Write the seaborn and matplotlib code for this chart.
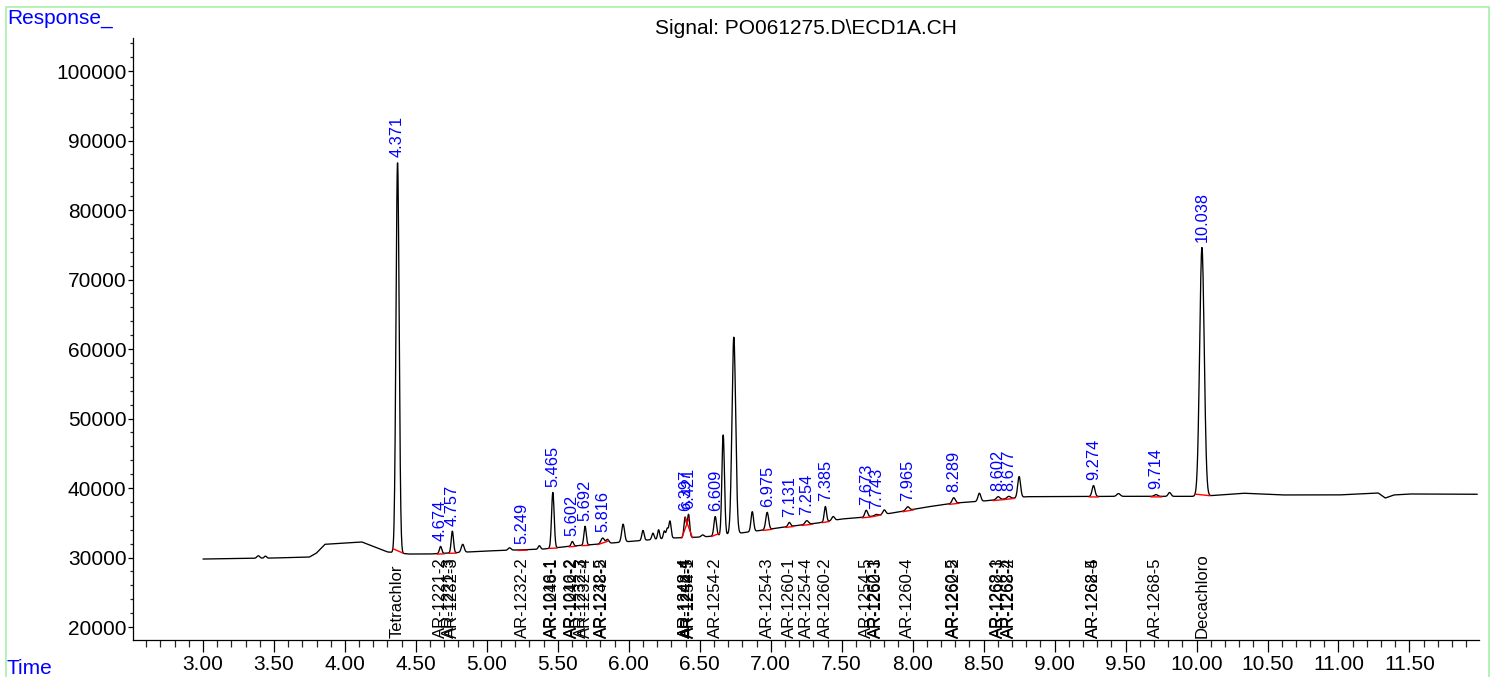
import numpy as np
import pandas as pd
import matplotlib
matplotlib.use("Agg")
import matplotlib.pyplot as plt
import seaborn as sns
from matplotlib.patches import Rectangle
from matplotlib.ticker import MultipleLocator, FormatStrFormatter
import matplotlib.transforms as mtransforms

# ---------------- data ----------------
baseline_time = [3.00, 3.50, 3.75, 3.80, 3.86, 4.00, 4.12, 4.23, 4.30, 4.45, 4.60,
                 5.00, 5.40, 5.60, 5.80, 6.00, 6.30, 6.52, 6.60, 6.78, 6.95, 7.10,
                 7.33, 7.50, 7.68, 7.90, 8.10, 8.30, 8.50, 8.72, 8.80, 9.50, 10.00,
                 10.10, 10.33, 10.60, 11.00, 11.28, 11.33, 11.39, 11.50, 11.98]
baseline_resp = [29780, 29930, 30070, 30650, 31900, 32090, 32230, 31370, 30800, 30500, 30500,
                 30940, 31220, 31650, 31940, 32300, 32800, 32950, 33100, 33500, 33960, 34390,
                 34960, 35540, 35830, 36550, 37270, 37840, 38130, 38560, 38750, 38800, 38800,
                 38900, 39250, 39000, 39000, 39280, 38560, 39000, 39140, 39100]

# integrated (labelled) peaks: retention time, apex response, width (sigma, min)
labeled_rt = [4.371, 4.674, 4.757, 5.249, 5.465, 5.602, 5.692, 5.816, 6.397, 6.421,
              6.609, 6.975, 7.131, 7.254, 7.385, 7.673, 7.743, 7.965, 8.289, 8.602,
              8.677, 9.274, 9.714, 10.038]
labeled_apex = [87000, 31600, 33800, 31100, 39400, 32300, 34500, 32800, 35800, 36200,
                35900, 36500, 35050, 35300, 37350, 36800, 36200, 37300, 38600, 38750,
                38800, 40350, 39050, 74600]
labeled_sigma = [0.011, 0.008, 0.008, 0.010, 0.009, 0.008, 0.008, 0.012, 0.008, 0.008,
                 0.009, 0.010, 0.009, 0.012, 0.008, 0.010, 0.010, 0.012, 0.011, 0.012,
                 0.012, 0.010, 0.012, 0.016]

# other visible peaks (not labelled)
other_rt = [3.39, 3.44, 4.83, 5.16, 5.37, 5.85, 5.96, 6.10, 6.17, 6.21, 6.25, 6.27,
            6.29, 6.52, 6.665, 6.74, 6.87, 7.44, 7.80, 8.47, 8.75, 9.45, 9.81]
other_apex = [30250, 30200, 31900, 31400, 31700, 32600, 34800, 33900, 33500, 34000, 33800, 34100,
              35250, 33250, 47700, 61700, 36600, 35900, 36850, 39250, 41650, 39200, 39350]
other_sigma = [0.010, 0.008, 0.010, 0.010, 0.008, 0.010, 0.010, 0.008, 0.008, 0.007, 0.007, 0.007,
               0.008, 0.010, 0.009, 0.013, 0.009, 0.010, 0.010, 0.010, 0.010, 0.012, 0.010]

# compound names printed at the bottom
compound_names = ["Tetrachlor", "AR-1221-2", "AR-1221-3", "AR-1232-3", "AR-1232-2",
                  "AR-1016-1", "AR-1248-1", "AR-1016-2", "AR-1242-2", "AR-1232-3",
                  "AR-1232-4", "AR-1232-5", "AR-1248-2", "AR-1242-4", "AR-1248-4",
                  "AR-1242-5", "AR-1254-1", "AR-1254-2", "AR-1254-3", "AR-1260-1",
                  "AR-1254-4", "AR-1260-2", "AR-1254-5", "AR-1262-1", "AR-1260-3",
                  "AR-1260-4", "AR-1260-5", "AR-1262-2", "AR-1268-1", "AR-1262-3",
                  "AR-1262-4", "AR-1268-2", "AR-1262-5", "AR-1268-4", "AR-1268-5",
                  "Decachloro"]
compound_time = [4.371, 4.674, 4.735, 4.757, 5.249,
                 5.458, 5.465, 5.595, 5.602, 5.668,
                 5.692, 5.810, 5.816, 6.397, 6.401,
                 6.421, 6.425, 6.609, 6.975, 7.131,
                 7.254, 7.385, 7.673, 7.735, 7.743,
                 7.965, 8.289, 8.292, 8.596, 8.602,
                 8.677, 8.681, 9.274, 9.277, 9.714,
                 10.038]

x_ticks = [3.0, 3.5, 4.0, 4.5, 5.0, 5.5, 6.0, 6.5, 7.0, 7.5, 8.0, 8.5, 9.0, 9.5,
           10.0, 10.5, 11.0, 11.5]
y_ticks = [20000, 30000, 40000, 50000, 60000, 70000, 80000, 90000, 100000]

# ---------------- build trace ----------------
t = np.arange(3.0, 11.98, 0.002)
base = np.interp(t, baseline_time, baseline_resp)
signal = base.copy()
all_rt = labeled_rt + other_rt
all_apex = labeled_apex + other_apex
all_sig = labeled_sigma + other_sigma
for rt, apex, s in zip(all_rt, all_apex, all_sig):
    amp = apex - np.interp(rt, baseline_time, baseline_resp)
    signal += amp * np.exp(-0.5 * ((t - rt) / s) ** 2)
df = pd.DataFrame({"time": t, "response": signal})

# ---------------- plot ----------------
sns.set_style("ticks")
plt.rcParams['font.family'] = ['Liberation Sans', 'DejaVu Sans']

W, H = 1496, 677
fig = plt.figure(figsize=(W / 100, H / 100), dpi=100)
fig.patch.set_facecolor("white")
ax = fig.add_axes([133 / W, 1 - 640 / H, (1479 - 133) / W, (640 - 38) / H])

sns.lineplot(data=df, x="time", y="response", ax=ax, color="black",
             linewidth=0.95, estimator=None, sort=False)

# integration baselines
for rt, s in zip(labeled_rt, labeled_sigma):
    xs, xe = rt - 3.0 * s, rt + 3.5 * s
    ys, ye = np.interp(xs, t, signal), np.interp(xe, t, signal)
    ax.plot([xs, xe], [ys - 80, ye - 80], color="red", linewidth=1.0, zorder=3)

# peak RT labels
for rt in labeled_rt:
    m = (t > rt - 0.015) & (t < rt + 0.015)
    top = signal[m].max()
    ax.annotate(f"{rt:.3f}", xy=(rt, top), xytext=(0, 4), textcoords="offset points",
                rotation=90, ha="center", va="bottom", color="#0000ff", fontsize=11.8)

# compound labels at bottom
trans = mtransforms.blended_transform_factory(ax.transData, ax.transAxes)
for name, x in zip(compound_names, compound_time):
    ax.annotate(name, xy=(x, 0), xycoords=trans, xytext=(0, 1.5), textcoords="offset points",
                rotation=90, ha="center", va="bottom", color="black", fontsize=12)

ax.set_xlim(2.507, 11.99)
ax.set_ylim(18130, 104750)
ax.set_xticks(x_ticks)
ax.set_yticks(y_ticks)
ax.xaxis.set_minor_locator(MultipleLocator(0.1))
ax.yaxis.set_minor_locator(MultipleLocator(2000))
ax.xaxis.set_major_formatter(FormatStrFormatter("%.2f"))
ax.yaxis.set_major_formatter(FormatStrFormatter("%d"))
ax.set_xlabel("")
ax.set_ylabel("")
ax.grid(False)
for side in ["top", "right"]:
    ax.spines[side].set_visible(False)
for side in ["left", "bottom"]:
    ax.spines[side].set_linewidth(0.9)
    ax.spines[side].set_color("black")

ax.tick_params(axis="x", which="major", length=8.6, width=0.9, direction="out",
               labelsize=15, pad=2, colors="black")
ax.tick_params(axis="x", which="minor", length=5, width=0.9, direction="out")
ax.tick_params(axis="y", which="major", length=3.6, width=0.9, direction="out",
               labelsize=15, pad=1, colors="black")
ax.tick_params(axis="y", which="minor", length=2.2, width=0.9, direction="out")

fig.text(806 / W, 1 - 28 / H, r"Signal: PO061275.D\ECD1A.CH", ha="center", va="center",
         fontsize=15, color="black")
fig.text(7 / W, 1 - 9 / H, "Response_", ha="left", va="top", fontsize=15, color="#0000ff")
fig.text(7 / W, 1 - 659 / H, "Time", ha="left", va="top", fontsize=15, color="#0000ff")

fig.add_artist(Rectangle((6 / W, -0.02), (1489 - 6) / W, 1 - 7 / H + 0.02,
                         transform=fig.transFigure, fill=False, edgecolor="#a8f0a8",
                         linewidth=1.2, clip_on=False))

fig.savefig("out.png", dpi=100, facecolor="white")
